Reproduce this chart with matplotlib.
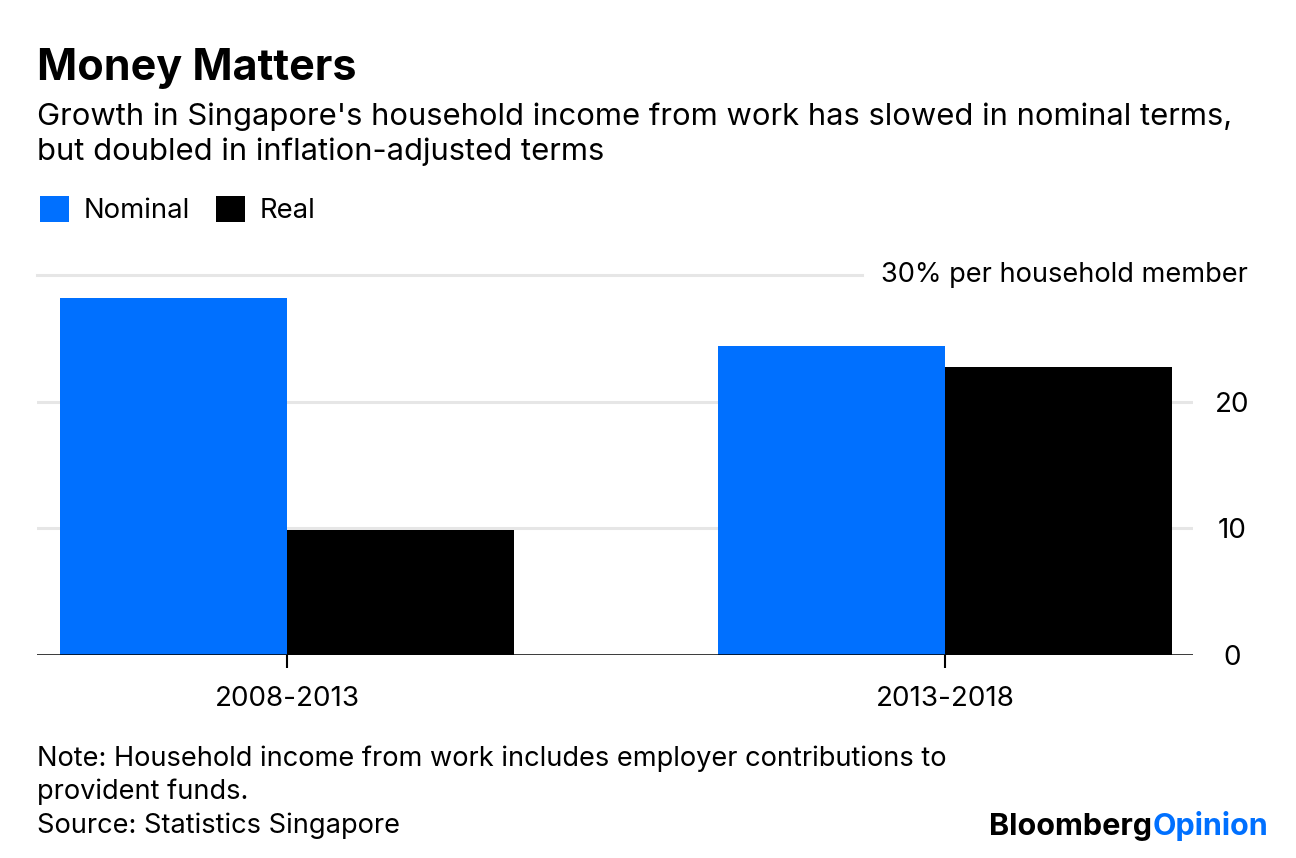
import matplotlib
matplotlib.use('Agg')
import matplotlib.pyplot as plt
import numpy as np

# data
periods = ['2008-2013', '2013-2018']
nominal = [28.2, 24.4]
real = [9.9, 22.7]

subtitle = ["Growth in Singapore's household income from work has slowed in nominal terms,",
            "but doubled in inflation-adjusted terms"]
notes = ['Note: Household income from work includes employer contributions to',
         'provident funds.',
         'Source: Statistics Singapore']

blue = '#0070ff'
grid_col = '#e6e6e6'
W, H = 1296, 858

plt.rcParams['font.family'] = ['Inter', 'DejaVu Sans']

fig = plt.figure(figsize=(12.96, 8.58), dpi=100)
ax = fig.add_axes([37 / W, 1 - 655 / H, (1193 - 37) / W, (655 - 275) / H])

x = np.arange(len(periods))
w = 0.3457
b1 = ax.bar(x - w / 2, nominal, w, color=blue, label='Nominal', zorder=3)
b2 = ax.bar(x + w / 2, real, w, color='black', label='Real', zorder=3)

ax.set_xlim(-0.38, 1.377)
ax.set_ylim(0, 30)

# gridlines
for v in [10, 20]:
    ax.axhline(v, color=grid_col, lw=2.2, zorder=1)
ax.axhline(30, xmax=(862 - 37) / (1193 - 37), color=grid_col, lw=2.2, zorder=1, clip_on=False)
ax.axhline(0, color='black', lw=1.8, zorder=4)

for s in ax.spines.values():
    s.set_visible(False)

ax.set_xticks(x)
ax.set_xticklabels(periods, fontsize=20)
ax.tick_params(axis='x', length=9, width=1.5, color='black', pad=13)

ax.yaxis.tick_right()
ax.set_yticks([0, 10, 20])
ax.set_yticklabels(['0', '10', '20'], fontsize=20)
ax.tick_params(axis='y', length=0, pad=28)
for lab in ax.get_yticklabels():
    lab.set_horizontalalignment('center')

ax.text(1.0475, 30, '30% per household member', fontsize=19.6, ha='right', va='center',
        transform=ax.get_yaxis_transform())

# titles
fig.text(37 / W, 1 - 80 / H, 'Money Matters', fontsize=31, fontweight='bold', va='baseline')
for line, base in zip(subtitle, [125, 160]):
    fig.text(37 / W, 1 - base / H, line, fontsize=22.3, va='baseline')

fig.legend(handles=[b1, b2], labels=['Nominal', 'Real'], loc='upper left',
           bbox_to_anchor=(40 / W, 1 - 196 / H), ncol=2, frameon=False,
           fontsize=19.8, handlelength=1.05, handleheight=1.05, handletextpad=0.54,
           columnspacing=0.93, borderpad=0, borderaxespad=0)

for line, base in zip(notes, [766, 799, 833]):
    fig.text(37 / W, 1 - base / H, line, fontsize=19.6, va='baseline')

t = fig.text(1268 / W, 1 - 835 / H, 'Opinion', fontsize=22, fontweight='bold',
             color=blue, ha='right', va='baseline')
fig.canvas.draw()
bb = t.get_window_extent()
fig.text(bb.x0 / W, 1 - 835 / H, 'Bloomberg', fontsize=22, fontweight='bold',
         color='black', ha='right', va='baseline')

fig.savefig('out.png', dpi=100)
